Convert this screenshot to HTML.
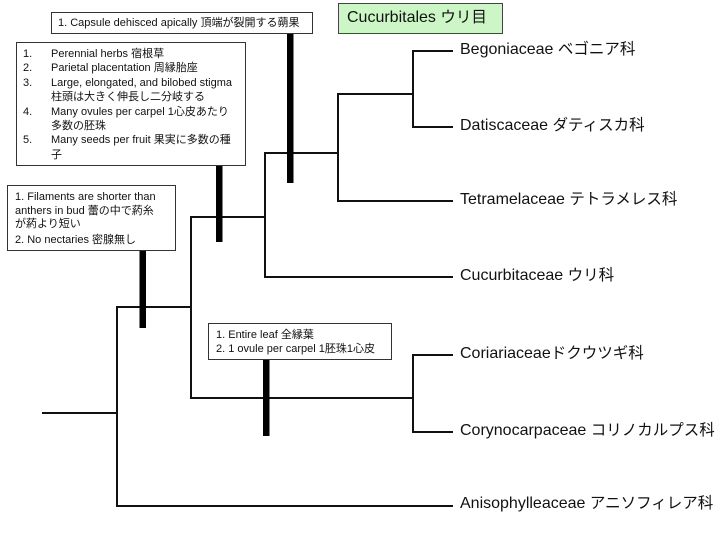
<!DOCTYPE html>
<html><head><meta charset="utf-8">
<style>
html,body{margin:0;padding:0;background:#fff;}
#c{position:relative;width:720px;height:540px;overflow:hidden;background:#fff;font-family:"Liberation Sans","Noto Sans CJK JP",sans-serif;color:#111;}
svg{position:absolute;left:0;top:0;}
.box{position:absolute;background:#fff;border:1px solid #333;box-sizing:border-box;}
.t{position:absolute;font-size:11px;line-height:14px;white-space:nowrap;}
.lab{position:absolute;font-size:16px;line-height:20px;white-space:nowrap;color:#111;}
.lab span{font-size:15.5px;}
</style></head>
<body><div id="c">
<svg width="720" height="540" viewBox="0 0 720 540">
<g stroke="#111" stroke-width="2" fill="none" stroke-linecap="square">
<line x1="43" y1="413" x2="117" y2="413"/>
<line x1="117" y1="307" x2="117" y2="506"/>
<line x1="117" y1="307" x2="191" y2="307"/>
<line x1="117" y1="506" x2="452" y2="506"/>
<line x1="191" y1="217" x2="191" y2="398"/>
<line x1="191" y1="217" x2="265" y2="217"/>
<line x1="191" y1="398" x2="413" y2="398"/>
<line x1="413" y1="355" x2="413" y2="432"/>
<line x1="413" y1="355" x2="452" y2="355"/>
<line x1="413" y1="432" x2="452" y2="432"/>
<line x1="265" y1="153" x2="265" y2="277"/>
<line x1="265" y1="153" x2="338" y2="153"/>
<line x1="265" y1="277" x2="452" y2="277"/>
<line x1="338" y1="94" x2="338" y2="201"/>
<line x1="338" y1="94" x2="413" y2="94"/>
<line x1="338" y1="201" x2="452" y2="201"/>
<line x1="413" y1="51" x2="413" y2="127"/>
<line x1="413" y1="51" x2="452" y2="51"/>
<line x1="413" y1="127" x2="452" y2="127"/>
</g>
<g fill="#000">
<rect x="287" y="33" width="6.5" height="150"/>
<rect x="216" y="165" width="6.5" height="77"/>
<rect x="139.5" y="250" width="6.5" height="78"/>
<rect x="263" y="359" width="6.5" height="77"/>
</g>
</svg>

<!-- Capsule box -->
<div class="box" style="left:51px;top:12px;width:262px;height:22px;"></div>
<div class="t" style="left:58px;top:16px;">1. Capsule dehisced apically 頂端が裂開する蒴果</div>

<!-- Big box -->
<div class="box" style="left:16px;top:42px;width:230px;height:124px;"></div>
<div class="t" style="left:23px;top:47px;line-height:14.4px;">1.<br>2.<br>3.<br><br>4.<br><br>5.</div>
<div class="t" style="left:51px;top:47px;line-height:14.4px;">Perennial herbs 宿根草<br>Parietal placentation 周縁胎座<br>Large, elongated, and bilobed stigma<br>柱頭は大きく伸長し二分岐する<br>Many ovules per carpel 1心皮あたり<br>多数の胚珠<br>Many seeds per fruit 果実に多数の種<br>子</div>

<!-- Filaments box -->
<div class="box" style="left:7px;top:185px;width:169px;height:66px;"></div>
<div class="t" style="left:15px;top:190px;">1. Filaments are shorter than</div>
<div class="t" style="left:15px;top:204px;">anthers in bud 蕾の中で葯糸</div>
<div class="t" style="left:15px;top:217px;">が葯より短い</div>
<div class="t" style="left:15px;top:233px;">2. No nectaries 密腺無し</div>

<!-- Entire leaf box -->
<div class="box" style="left:208px;top:323px;width:184px;height:37px;"></div>
<div class="t" style="left:216px;top:328px;">1. Entire leaf 全縁葉</div>
<div class="t" style="left:216px;top:342px;">2. 1 ovule per carpel 1胚珠1心皮</div>

<!-- Cucurbitales -->
<div class="box" style="left:338px;top:3px;width:165px;height:31px;background:#ccf6c6;border-color:#444;"></div>
<div class="lab" style="left:347px;top:8px;">Cucurbitales <span>ウリ目</span></div>

<!-- Labels -->
<div class="lab" style="left:460px;top:40px;">Begoniaceae <span>ベゴニア科</span></div>
<div class="lab" style="left:460px;top:116px;">Datiscaceae <span>ダティスカ科</span></div>
<div class="lab" style="left:460px;top:190px;">Tetramelaceae <span>テトラメレス科</span></div>
<div class="lab" style="left:460px;top:266px;">Cucurbitaceae <span>ウリ科</span></div>
<div class="lab" style="left:460px;top:344px;">Coriariaceae<span>ドクウツギ科</span></div>
<div class="lab" style="left:460px;top:421px;">Corynocarpaceae <span>コリノカルプス科</span></div>
<div class="lab" style="left:460px;top:494px;">Anisophylleaceae <span>アニソフィレア科</span></div>
</div></body></html>
